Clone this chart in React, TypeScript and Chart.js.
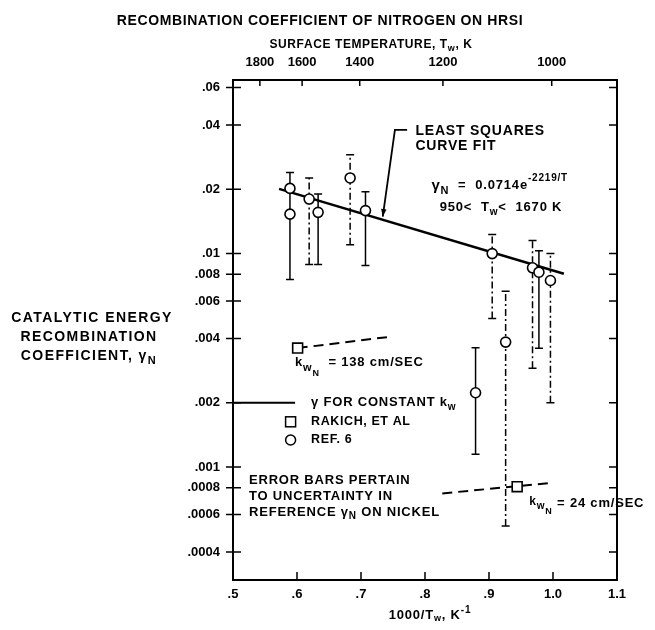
import React, { useEffect, useRef } from 'react';
import { Chart, registerables } from 'chart.js';
Chart.register(...registerables);

// ---- data ----
const ref6X = [0.589, 0.589, 0.619, 0.633, 0.683, 0.707, 0.905, 0.968, 0.978, 0.996, 0.879, 0.926];
const ref6Y = [0.0202, 0.0153, 0.018, 0.0156, 0.0226, 0.0159, 0.01, 0.00858, 0.00818, 0.00748, 0.00223, 0.00385];

const errX = [0.589, 0.619, 0.633, 0.683, 0.707, 0.905, 0.968, 0.978, 0.996, 0.879, 0.926];
const errLow = [0.00756, 0.0089, 0.0089, 0.011, 0.0088, 0.00497, 0.0029, 0.0036, 0.002, 0.00115, 0.00053];
const errHigh = [0.024, 0.0226, 0.019, 0.029, 0.0195, 0.0123, 0.0115, 0.0103, 0.01, 0.00362, 0.00667];
const errDashed = [false, true, false, true, false, true, true, false, true, false, true];

const rakichX = [0.601, 0.944];
const rakichY = [0.00361, 0.00081];

const k138X = [0.601, 0.749];
const k138Y = [0.00361, 0.00409];
const k24X = [0.827, 1.0];
const k24Y = [0.000753, 0.000845];

const fitX = [0.572, 1.017];
const fitY = [0.0201, 0.00804];

const xTicks = [0.5, 0.6, 0.7, 0.8, 0.9, 1.0, 1.1];
const yTicks = [0.0004, 0.0006, 0.0008, 0.001, 0.002, 0.004, 0.006, 0.008, 0.01, 0.02, 0.04, 0.06];
const tempLabels = ['1800', '1600', '1400', '1200', '1000'];
const tempPos = [0.542, 0.608, 0.698, 0.828, 0.998];

const FONT = '"Liberation Sans", Arial, sans-serif';

type Part = { t: string; s: number; dy?: number };

function drawRich(ctx: CanvasRenderingContext2D, x: number, y: number, parts: Part[], align: 'left' | 'center' = 'left') {
  const widths = parts.map((p) => {
    ctx.font = `bold ${p.s}px ${FONT}`;
    return ctx.measureText(p.t).width;
  });
  const total = widths.reduce((a, b) => a + b, 0);
  let cx = align === 'center' ? x - total / 2 : x;
  ctx.textAlign = 'left';
  ctx.textBaseline = 'middle';
  parts.forEach((p, i) => {
    ctx.font = `bold ${p.s}px ${FONT}`;
    ctx.fillText(p.t, cx, y + (p.dy || 0));
    cx += widths[i];
  });
}

const overlay = {
  id: 'overlay',
  beforeDatasetsDraw(chart: any) {
    const ctx: CanvasRenderingContext2D = chart.ctx;
    const xs = chart.scales.x;
    const ys = chart.scales.y;
    ctx.save();
    ctx.strokeStyle = '#000';
    ctx.lineWidth = 1.5;
    errX.forEach((xv, i) => {
      const px = xs.getPixelForValue(xv);
      const p1 = ys.getPixelForValue(errLow[i]);
      const p2 = ys.getPixelForValue(errHigh[i]);
      ctx.setLineDash(errDashed[i] ? [7, 3, 2, 3] : []);
      ctx.beginPath();
      ctx.moveTo(px, p1);
      ctx.lineTo(px, p2);
      ctx.stroke();
      ctx.setLineDash([]);
      ctx.beginPath();
      ctx.moveTo(px - 4, p1);
      ctx.lineTo(px + 4, p1);
      ctx.moveTo(px - 4, p2);
      ctx.lineTo(px + 4, p2);
      ctx.stroke();
    });
    ctx.restore();
  },
  afterDraw(chart: any) {
    const ctx: CanvasRenderingContext2D = chart.ctx;
    const xs = chart.scales.x;
    const ys = chart.scales.y;
    const x2 = chart.scales.x2;
    const a = chart.chartArea;
    const P = (x: number, y: number) => [xs.getPixelForValue(x), ys.getPixelForValue(y)];
    ctx.save();
    ctx.fillStyle = '#000';
    ctx.strokeStyle = '#000';
    // frame
    ctx.lineWidth = 2;
    ctx.strokeRect(a.left, a.top, a.right - a.left, a.bottom - a.top);
    // ticks
    ctx.lineWidth = 1.5;
    ctx.beginPath();
    yTicks.forEach((v) => {
      const py = ys.getPixelForValue(v);
      ctx.moveTo(a.left - 7, py);
      ctx.lineTo(a.left + 8, py);
      ctx.moveTo(a.right - 8, py);
      ctx.lineTo(a.right, py);
    });
    xTicks.forEach((v) => {
      const px = xs.getPixelForValue(v);
      ctx.moveTo(px, a.bottom);
      ctx.lineTo(px, a.bottom - 8);
    });
    tempPos.forEach((v) => {
      const px = x2.getPixelForValue(v);
      ctx.moveTo(px, a.top);
      ctx.lineTo(px, a.top + 6);
    });
    ctx.stroke();

    (ctx as any).letterSpacing = '0.6px';
    // titles
    drawRich(ctx, 320, 21, [{ t: 'RECOMBINATION COEFFICIENT OF NITROGEN ON HRSI', s: 14 }], 'center');
    drawRich(ctx, 371, 45, [
      { t: 'SURFACE TEMPERATURE, T', s: 12 },
      { t: 'w', s: 9, dy: 4 },
      { t: ', K', s: 12 },
    ], 'center');
    (ctx as any).letterSpacing = '0.8px';
    drawRich(ctx, 430, 615, [
      { t: '1000/T', s: 13 },
      { t: 'w', s: 9, dy: 4 },
      { t: ', K', s: 13 },
      { t: '-1', s: 10, dy: -5 },
    ], 'center');
    (ctx as any).letterSpacing = '1.4px';
    drawRich(ctx, 92, 318, [{ t: 'CATALYTIC ENERGY', s: 14 }], 'center');
    drawRich(ctx, 89, 337, [{ t: 'RECOMBINATION', s: 14 }], 'center');
    drawRich(ctx, 89, 356, [
      { t: 'COEFFICIENT, γ', s: 14 },
      { t: 'N', s: 11, dy: 5 },
    ], 'center');

    (ctx as any).letterSpacing = '0.8px';
    // fit annotation
    let [tx, ty] = P(0.785, 0.0376);
    drawRich(ctx, tx, ty, [{ t: 'LEAST SQUARES', s: 14 }]);
    [tx, ty] = P(0.785, 0.032);
    drawRich(ctx, tx, ty, [{ t: 'CURVE FIT', s: 14 }]);
    const [ax1, ay1] = P(0.753, 0.038);
    const [ax2] = P(0.772, 0.038);
    const [ax3, ay3] = P(0.734, 0.0149);
    ctx.lineWidth = 1.8;
    ctx.beginPath();
    ctx.moveTo(ax2, ay1);
    ctx.lineTo(ax1, ay1);
    ctx.lineTo(ax3, ay3);
    ctx.stroke();
    const ang = Math.atan2(ay3 - ay1, ax3 - ax1);
    ctx.beginPath();
    ctx.moveTo(ax3, ay3);
    ctx.lineTo(ax3 - 8 * Math.cos(ang - 0.35), ay3 - 8 * Math.sin(ang - 0.35));
    ctx.lineTo(ax3 - 8 * Math.cos(ang + 0.35), ay3 - 8 * Math.sin(ang + 0.35));
    ctx.closePath();
    ctx.fill();

    [tx, ty] = P(0.81, 0.0208);
    drawRich(ctx, tx, ty, [
      { t: 'γ', s: 15 },
      { t: 'N', s: 11, dy: 5 },
      { t: '  =  0.0714e', s: 13 },
      { t: '-2219/T', s: 10, dy: -7 },
    ]);
    [tx, ty] = P(0.823, 0.0164);
    drawRich(ctx, tx, ty, [
      { t: '950<  T', s: 13 },
      { t: 'w', s: 10, dy: 5 },
      { t: '<  1670 K', s: 13 },
    ]);

    // k_w 138
    [tx, ty] = P(0.6, 0.0031);
    drawRich(ctx, tx - 2, ty, [
      { t: 'k', s: 13 },
      { t: 'w', s: 11, dy: 6 },
      { t: 'N', s: 9, dy: 11 },
      { t: '  = 138 cm/SEC', s: 13 },
    ]);
    // k_w 24
    [tx, ty] = P(0.963, 0.00066);
    drawRich(ctx, tx, ty - 4, [
      { t: 'k', s: 12 },
      { t: 'w', s: 10, dy: 5 },
      { t: 'N', s: 9, dy: 10 },
      { t: ' = 24 cm/SEC', s: 13, dy: 2 },
    ]);

    // error note
    [tx, ty] = P(0.525, 0.000863);
    drawRich(ctx, tx, ty, [{ t: 'ERROR BARS PERTAIN', s: 13 }]);
    [tx, ty] = P(0.525, 0.000732);
    drawRich(ctx, tx, ty, [{ t: 'TO UNCERTAINTY IN', s: 13 }]);
    [tx, ty] = P(0.525, 0.000612);
    drawRich(ctx, tx, ty, [
      { t: 'REFERENCE γ', s: 13 },
      { t: 'N', s: 10, dy: 4 },
      { t: ' ON NICKEL', s: 13 },
    ]);

    // legend
    const [l1, ly1] = P(0.5, 0.002);
    const [l2] = P(0.597, 0.002);
    ctx.lineWidth = 2;
    ctx.beginPath();
    ctx.moveTo(l1, ly1);
    ctx.lineTo(l2, ly1);
    ctx.stroke();
    [tx, ty] = P(0.622, 0.002);
    drawRich(ctx, tx, ty, [
      { t: 'γ FOR CONSTANT k', s: 13 },
      { t: 'w', s: 10, dy: 4 },
    ]);
    const [sx, sy] = P(0.59, 0.00163);
    ctx.lineWidth = 1.5;
    ctx.fillStyle = '#fff';
    ctx.fillRect(sx - 5, sy - 5, 10, 10);
    ctx.strokeRect(sx - 5, sy - 5, 10, 10);
    const [cx, cy] = P(0.59, 0.00134);
    ctx.beginPath();
    ctx.arc(cx, cy, 5, 0, Math.PI * 2);
    ctx.fill();
    ctx.stroke();
    ctx.fillStyle = '#000';
    (ctx as any).letterSpacing = '0.6px';
    [tx, ty] = P(0.622, 0.00163);
    drawRich(ctx, tx, ty, [{ t: 'RAKICH, ET AL', s: 12.5 }]);
    [tx, ty] = P(0.622, 0.00134);
    drawRich(ctx, tx, ty, [{ t: 'REF. 6', s: 12.5 }]);
    ctx.restore();
  },
};

export default function App() {
  const canvasRef = useRef<HTMLCanvasElement | null>(null);
  useEffect(() => {
    const canvas = canvasRef.current;
    if (!canvas) return;
    const tickFont = { family: FONT, size: 13, weight: 'bold' as const };
    const chart = new Chart(canvas, {
      type: 'scatter',
      data: {
        datasets: [
          {
            label: 'REF. 6',
            data: ref6X.map((x, i) => ({ x, y: ref6Y[i] })),
            pointStyle: 'circle',
            pointRadius: 5,
            pointBackgroundColor: '#fff',
            pointBorderColor: '#000',
            pointBorderWidth: 1.6,
            showLine: false,
          },
          {
            label: 'RAKICH, ET AL',
            data: rakichX.map((x, i) => ({ x, y: rakichY[i] })),
            pointStyle: 'rect',
            pointRadius: 7,
            pointBackgroundColor: '#fff',
            pointBorderColor: '#000',
            pointBorderWidth: 1.6,
            showLine: false,
          },
          {
            label: 'k138',
            data: k138X.map((x, i) => ({ x, y: k138Y[i] })),
            showLine: true,
            borderColor: '#000',
            borderWidth: 2,
            borderDash: [10, 6],
            pointRadius: 0,
          },
          {
            label: 'k24',
            data: k24X.map((x, i) => ({ x, y: k24Y[i] })),
            showLine: true,
            borderColor: '#000',
            borderWidth: 2,
            borderDash: [10, 6],
            pointRadius: 0,
          },
          {
            label: 'fit',
            data: fitX.map((x, i) => ({ x, y: fitY[i] })),
            showLine: true,
            borderColor: '#000',
            borderWidth: 2.5,
            pointRadius: 0,
          },
        ],
      },
      options: {
        responsive: false,
        animation: false,
        layout: { padding: { left: 173, top: 50, right: 38, bottom: 20 } },
        plugins: { legend: { display: false }, tooltip: { enabled: false }, title: { display: false } },
        scales: {
          x: {
            type: 'linear',
            position: 'bottom',
            min: 0.5,
            max: 1.1,
            afterBuildTicks: (s: any) => {
              s.ticks = xTicks.map((v) => ({ value: v }));
            },
            afterFit: (s: any) => {
              s.height = 30;
            },
            ticks: {
              autoSkip: false,
              maxRotation: 0,
              padding: 7,
              color: '#000',
              font: tickFont,
              callback: (v: any) => Number(v).toFixed(1).replace(/^0/, ''),
            },
            grid: { display: false, drawTicks: false },
            border: { display: false },
          },
          x2: {
            type: 'linear',
            position: 'top',
            min: 0.5,
            max: 1.1,
            afterBuildTicks: (s: any) => {
              s.ticks = tempPos.map((v) => ({ value: v }));
            },
            afterFit: (s: any) => {
              s.height = 30;
            },
            ticks: {
              autoSkip: false,
              maxRotation: 0,
              padding: 10,
              color: '#000',
              font: tickFont,
              callback: (_v: any, i: number) => tempLabels[i],
            },
            grid: { display: false, drawTicks: false },
            border: { display: false },
          },
          y: {
            type: 'logarithmic',
            position: 'left',
            min: 0.000296,
            max: 0.065,
            afterBuildTicks: (s: any) => {
              s.ticks = yTicks.map((v) => ({ value: v }));
            },
            afterFit: (s: any) => {
              s.width = 60;
            },
            ticks: {
              autoSkip: false,
              padding: 13,
              color: '#000',
              font: tickFont,
              callback: (v: any) => String(v).replace(/^0/, ''),
            },
            grid: { display: false, drawTicks: false },
            border: { display: false },
          },
        },
      },
      plugins: [overlay],
    } as any);
    return () => chart.destroy();
  }, []);
  return (
    <div style={{ position: 'absolute', left: 0, top: 0, width: 655, height: 630, background: '#fff' }}>
      <canvas ref={canvasRef} width={655} height={630} style={{ display: 'block' }} />
    </div>
  );
}
